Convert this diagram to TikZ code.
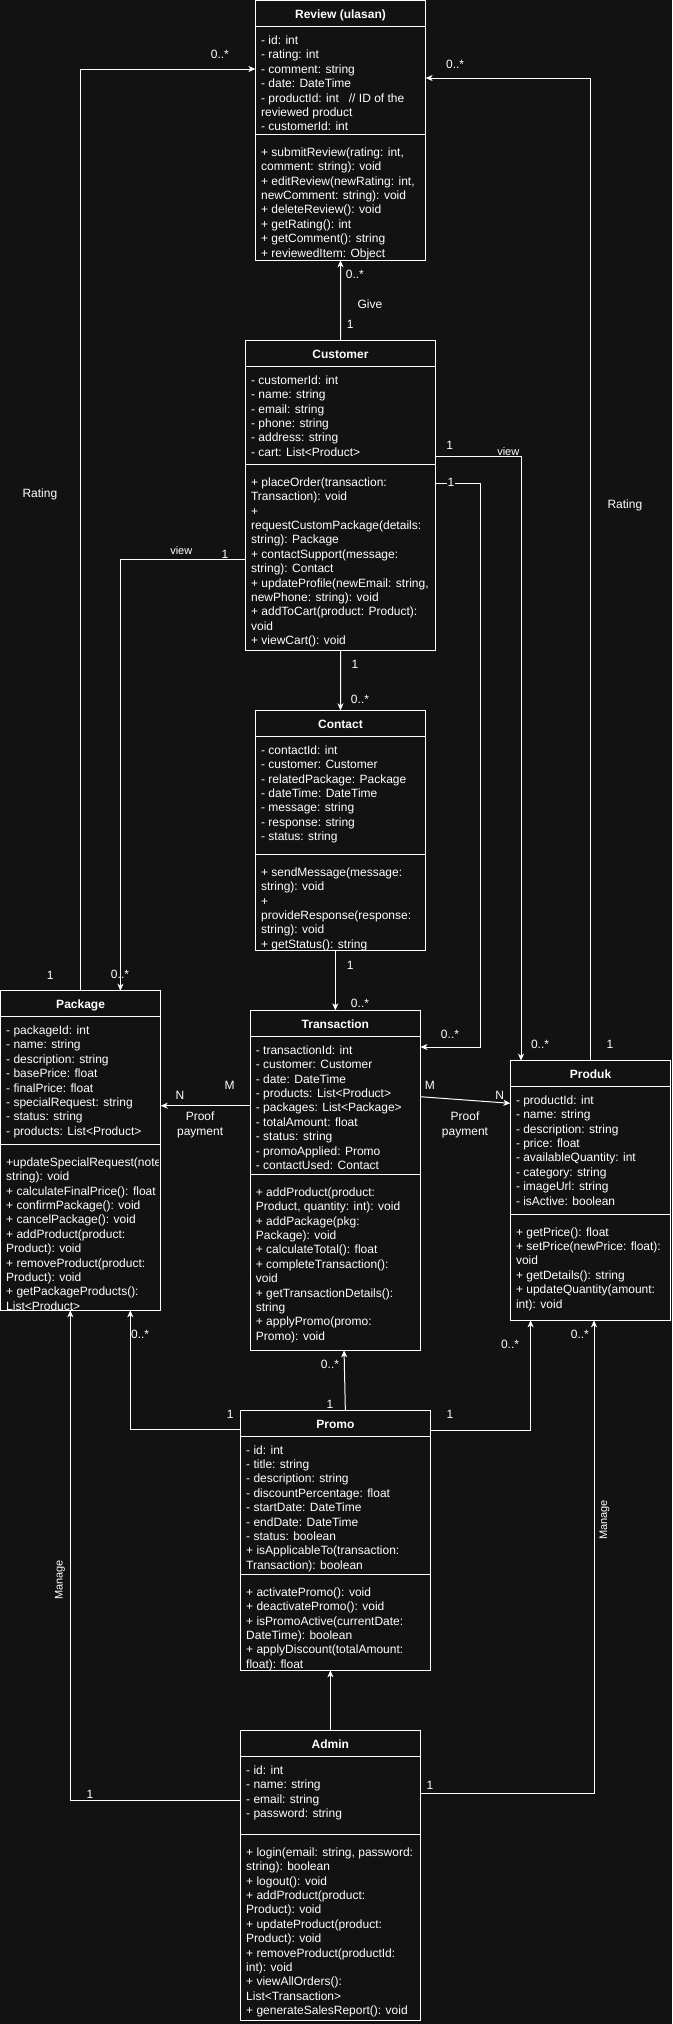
\documentclass[tikz,border=0pt]{standalone}
\usepackage{fontspec}
\setmainfont{Liberation Sans}
\usetikzlibrary{arrows.meta}
\definecolor{bg}{HTML}{121212}
\newcommand\umllines[4]{\foreach \cl [count=\ci] in {#4}{\node[txt] (#1\ci) at (#2,{#3+14.4*(\ci-1)}) {\cl};}}
\newcommand\umlclass[7]{%
  \node[frame, minimum width=#4, minimum height=#5] (#1) at (#2,#3) {};
  \draw[sepl] ([yshift=-26pt]#1.north west) -- ([yshift=-26pt]#1.north east);
  \draw[sepl] ([yshift=-#6pt]#1.north west) -- ([yshift=-#6pt]#1.north east);
  \node[ttl] (#1-title) at ([yshift=-18pt]#1.north) {#7};
}
\begin{document}
\begin{tikzpicture}[x=1pt, y=-1pt,
  txt/.style={anchor=base west, inner sep=0pt, text=white, font=\fontsize{12}{14.4}\selectfont},
  ttl/.style={anchor=base, inner sep=0pt, text=white, font=\bfseries\fontsize{12}{14.4}\selectfont},
  frame/.style={draw=white, fill=bg, line width=1pt, inner sep=0pt, outer sep=0pt, anchor=north west},
  sepl/.style={draw=white, line width=1pt},
  arr/.style={draw=white, line width=1pt, -{Stealth[length=7pt,width=6pt,inset=2pt]}},
  lbl/.style={inner sep=0pt, text=white, font=\fontsize{12}{14.4}\selectfont, align=center},
  slbl/.style={inner sep=0pt, text=white, font=\fontsize{11}{13}\selectfont},
  rlbl/.style={inner sep=0pt, text=white, font=\fontsize{11}{13}\selectfont, rotate=90}]
\fill[bg] (0,0) rectangle (672,2024);
\useasboundingbox (0,0) rectangle (672,2024);

% ---------- classes ----------
\umlclass{review}{255.4}{0.5}{170.2}{259.8}{133.8}{Review (ulasan)}
\umllines{ra}{260.9}{44.4}{- id: int, - rating: int, - comment: string, - date: DateTime, - productId: int\ \ \ // ID of the, reviewed product, - customerId: int}
\umllines{rm}{260.9}{156.3}{{+ submitReview(rating: int,}, comment: string): void, {+ editReview(newRating: int,}, newComment: string): void, + deleteReview(): void, + getRating(): int, + getComment(): string, + reviewedItem: Object}

\umlclass{customer}{245.6}{340.3}{189.8}{310}{124}{Customer}
\umllines{ca}{250.9}{384.3}{- customerId: int, - name: string, - email: string, - phone: string, - address: string, - cart: List<Product>}
\umllines{cm}{250.9}{486.3}{+ placeOrder(transaction:, Transaction): void, +, requestCustomPackage(details:, string): Package, + contactSupport(message:, string): Contact, {+ updateProfile(newEmail: string,}, newPhone: string): void, + addToCart(product: Product):, void, + viewCart(): void}

\umlclass{contact}{255.4}{710.3}{170.2}{240}{144}{Contact}
\umllines{ka}{260.9}{754.3}{- contactId: int, - customer: Customer, - relatedPackage: Package, - dateTime: DateTime, - message: string, - response: string, - status: string}
\umllines{km}{260.9}{876.3}{+ sendMessage(message:, string): void, +, provideResponse(response:, string): void, + getStatus(): string}

\umlclass{package}{0.5}{990.7}{160.2}{319.6}{153.6}{Package}
\umllines{pa}{6}{1034.5}{- packageId: int, - name: string, - description: string, - basePrice: float, - finalPrice: float, - specialRequest: string, - status: string, - products: List<Product>}
\begin{scope}
\clip (0.5,1144) rectangle (158.5,1310.3);
\umllines{pm}{6}{1166.3}{+updateSpecialRequest(notes:, string): void, + calculateFinalPrice(): float, + confirmPackage(): void, + cancelPackage(): void, + addProduct(product:, Product): void, + removeProduct(product:, Product): void, + getPackageProducts():, List<Product>}
\end{scope}
\draw[sepl] (package.north west) rectangle (package.south east);

\umlclass{transaction}{250.3}{1010.3}{170.1}{340}{164}{Transaction}
\umllines{ta}{255.7}{1054.3}{- transactionId: int, - customer: Customer, - date: DateTime, - products: List<Product>, - packages: List<Package>, - totalAmount: float, - status: string, - promoApplied: Promo, - contactUsed: Contact}
\umllines{tm}{255.7}{1196.3}{+ addProduct(product:, {Product, quantity: int): void}, + addPackage(pkg:, Package): void, + calculateTotal(): float, + completeTransaction():, void, + getTransactionDetails():, string, + applyPromo(promo:, Promo): void}

\umlclass{produk}{510.4}{1060.7}{160.3}{259.6}{154}{Produk}
\umllines{da}{515.8}{1104.3}{- productId: int, - name: string, - description: string, - price: float, - availableQuantity: int, - category: string, - imageUrl: string, - isActive: boolean}
\umllines{dm}{515.8}{1236}{+ getPrice(): float, + setPrice(newPrice: float):, void, + getDetails(): string, + updateQuantity(amount:, int): void}

\umlclass{promo}{240.4}{1410.3}{189.9}{260}{164}{Promo}
\umllines{oa}{246}{1454}{- id: int, - title: string, - description: string, - discountPercentage: float, - startDate: DateTime, - endDate: DateTime, - status: boolean, + isApplicableTo(transaction:, Transaction): boolean}
\umllines{om}{246}{1596.3}{+ activatePromo(): void, + deactivatePromo(): void, + isPromoActive(currentDate:, DateTime): boolean, + applyDiscount(totalAmount:, float): float}

\umlclass{admin}{240.4}{1730.3}{180}{290}{104}{Admin}
\umllines{aa}{246}{1774.3}{- id: int, - name: string, - email: string, - password: string}
\umllines{am}{246}{1856.3}{{+ login(email: string, password:}, string): boolean, + logout(): void, + addProduct(product:, Product): void, + updateProduct(product:, Product): void, + removeProduct(productId:, int): void, + viewAllOrders():, List<Transaction>, + generateSalesReport(): void}

% ---------- bend points ----------
\coordinate (r1) at (80.6,69);
\coordinate (r2) at (590.6,78);
\coordinate (v1) at (521,456.7);
\coordinate (t1) at (480.4,483.7);
\coordinate (t2) at (480.4,1047);
\coordinate (v2) at (120.4,559.3);
\coordinate (p1) at (200,1105.7);
\coordinate (q1) at (465,1096.7);
\coordinate (q2) at (465,1103.3);
\coordinate (m1) at (130.3,1429.7);
\coordinate (m2) at (530.6,1430);
\coordinate (a1) at (70.3,1800);
\coordinate (a2) at (594,1793.3);

% ---------- connectors ----------
\draw[arr] (package.north -| r1) -- (r1) -- (review.west |- r1);
\draw[arr] (produk.north -| r2) -- (r2) -- (review.east |- r2);
\draw[arr] (customer.north) -- (review.south);
\draw[arr] (customer.east |- v1) -- (v1) -- (produk.north -| v1);
\draw[arr] (customer.east |- t1) -- (t1) -- (t2) -- (transaction.east |- t2);
\draw[arr] (customer.west |- v2) -- (v2) -- (package.north -| v2);
\draw[arr] (customer.south) -- (contact.north);
\draw[arr] (contact.south -| transaction.north) -- (transaction.north);
\draw[arr] (transaction.west |- p1) -- (package.east |- p1);
\draw[arr] (transaction.east |- q1) -- (produk.west |- q2);
\draw[arr] ([xshift=10pt]promo.north) -- ([xshift=8.7pt]transaction.south);
\draw[arr] (promo.west |- m1) -- (m1) -- (package.south -| m1);
\draw[arr] (promo.east |- m2) -- (m2) -- (produk.south -| m2);
\draw[arr] (admin.north) -- (promo.south -| admin.north);
\draw[arr] (admin.west |- a1) -- (a1) -- (package.south -| a1);
\draw[arr] (admin.east |- a2) -- (a2) -- (produk.south -| a2);

% ---------- labels ----------
\node[lbl] (l1) at (219.9,54) {0..*};
\node[lbl] (l2) at (455.1,64) {0..*};
\node[lbl] (l3) at (39.9,494) {Rating};
\node[lbl] (l4) at (624.9,505) {Rating};
\node[lbl] (l5) at (354.9,274) {0..*};
\node[lbl] (l6) at (369.9,304) {Give};
\node[lbl] (l7) at (350.1,324) {1};
\node[lbl] (l8) at (449.6,445) {1};
\node[slbl] (l9) at (508.3,452) {view};
\node[lbl, fill=bg, inner xsep=1pt] (l10) at (450.9,482) {1};
\node[slbl] (l11) at (181.3,551) {view};
\node[lbl] (l12) at (225,554) {1};
\node[lbl] (l13) at (354.9,664) {1};
\node[lbl] (l14) at (360,699) {0..*};
\node[lbl] (l15) at (50.1,975) {1};
\node[lbl] (l16) at (120,974) {0..*};
\node[lbl] (l17) at (350.1,965) {1};
\node[lbl] (l18) at (360,1003) {0..*};
\node[lbl] (l19) at (450,1034) {0..*};
\node[lbl] (l20) at (540,1044) {0..*};
\node[lbl] (l21) at (609.9,1044) {1};
\node[lbl] (l22) at (229.7,1085) {M};
\node[lbl] (l23) at (180,1095) {N};
\node[lbl] (l24) at (200.1,1125) {Proof\\payment};
\node[lbl] (l25) at (429.9,1085) {M};
\node[lbl] (l26) at (499.7,1095) {N};
\node[lbl] (l27) at (465,1125) {Proof\\payment};
\node[lbl] (l28) at (330,1364) {0..*};
\node[lbl] (l29) at (330,1404) {1};
\node[lbl] (l30) at (230.1,1414) {1};
\node[lbl] (l31) at (140.1,1334) {0..*};
\node[lbl] (l32) at (450,1414) {1};
\node[lbl] (l33) at (510,1344) {0..*};
\node[lbl] (l34) at (579.9,1334) {0..*};
\node[rlbl] (l35) at (60,1580) {Manage};
\node[rlbl] (l36) at (604.5,1520) {Manage};
\node[lbl] (l37) at (90,1794) {1};
\node[lbl] (l38) at (429.9,1785) {1};
\end{tikzpicture}
\end{document}
